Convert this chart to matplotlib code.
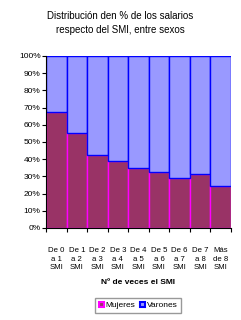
import matplotlib
matplotlib.use("Agg")
import matplotlib.pyplot as plt
from matplotlib.patches import Patch
import numpy as np

plt.rcParams['font.family'] = ['Liberation Sans', 'DejaVu Sans']

categories = ["De 0\na 1\nSMI", "De 1\na 2\nSMI", "De 2\na 3\nSMI", "De 3\na 4\nSMI",
              "De 4\na 5\nSMI", "De 5\na 6\nSMI", "De 6\na 7\nSMI", "De 7\na 8\nSMI",
              "Más\nde 8\nSMI"]
mujeres = [67.3, 55.0, 42.3, 39.2, 34.7, 32.8, 28.9, 31.2, 24.4]
varones = [100 - m for m in mujeres]

fig = plt.figure(figsize=(2.41, 3.2), dpi=100)
ax = fig.add_axes([0.191, 0.2875, 0.767, 0.5375])

x = np.arange(len(categories))
ax.bar(x, mujeres, width=1.0, color="#993366", edgecolor="#FF00FF", linewidth=1.0)
ax.bar(x, varones, width=1.0, bottom=mujeres, color="#9999FF", edgecolor="#0000FF", linewidth=1.0)

ax.set_xlim(-0.5, len(categories) - 0.5)
ax.set_ylim(0, 100)
ax.set_yticks(np.arange(0, 101, 10))
ax.set_yticklabels([f"{v}%" for v in range(0, 101, 10)], fontsize=6)
ax.set_xticks(x)
ax.set_xticklabels(categories, fontsize=5.6, linespacing=1.25)
ax.tick_params(axis='x', length=0, pad=14)
ax.set_xticks(np.arange(-0.5, len(categories)), minor=True)
ax.tick_params(axis='x', which='minor', length=3, width=0.8)
ax.tick_params(axis='y', length=3, width=0.8, pad=1)
for s in ["top", "right"]:
    ax.spines[s].set_visible(False)
ax.spines["left"].set_linewidth(0.8)
ax.spines["bottom"].set_linewidth(0.8)

ax.set_xlabel("Nº de veces el SMI", fontsize=6, fontweight="bold", labelpad=6)

fig.text(0.5, 0.928, "Distribución den % de los salarios\nrespecto del SMI, entre sexos",
         ha="center", va="center", fontsize=7, linespacing=1.6)

handles = [Patch(facecolor="#993366", edgecolor="#FF00FF", linewidth=1.5, label="Mujeres"),
           Patch(facecolor="#9999FF", edgecolor="#0000FF", linewidth=1.5, label="Varones")]
fig.legend(handles=handles, loc="center", bbox_to_anchor=(0.573, 0.045), ncol=2,
           fontsize=6, frameon=True, fancybox=False, edgecolor="#808080",
           handlelength=0.6, handleheight=0.6, handletextpad=0.25, columnspacing=0.5,
           borderpad=0.4, borderaxespad=0)

fig.savefig("out.png", dpi=100)
